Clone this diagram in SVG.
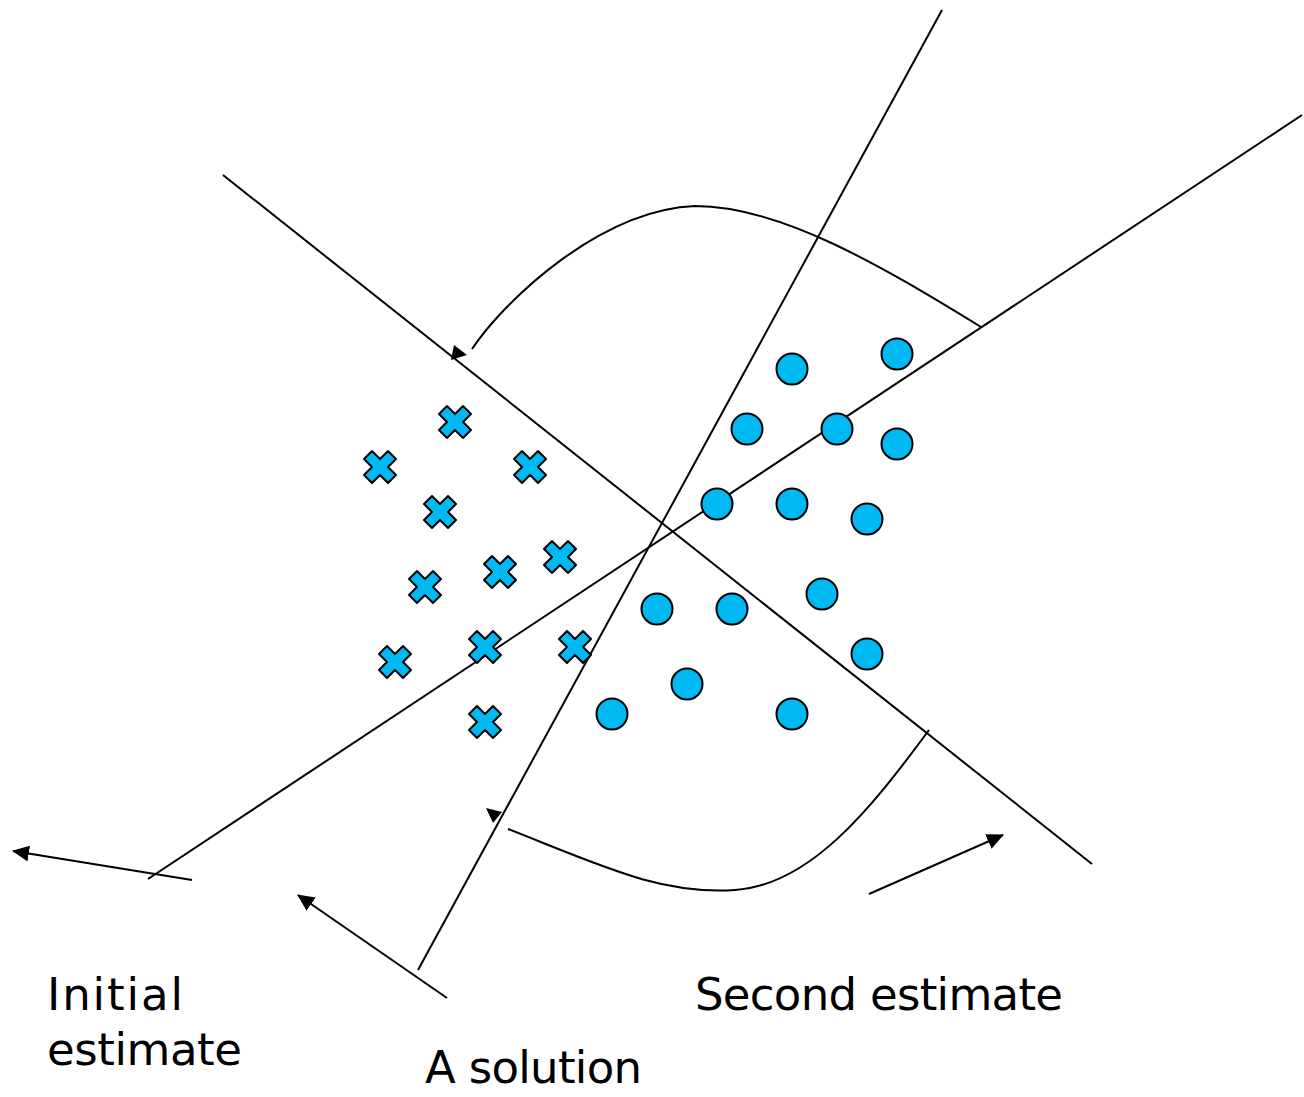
<svg xmlns="http://www.w3.org/2000/svg" width="1304" height="1097" viewBox="0 0 1304 1097">
  <style>
    .ln { fill: none; stroke: #000; stroke-width: 2; }
    .head { fill: #000; stroke: none; }
    .dot { fill: #00B9F2; stroke: #000; stroke-width: 2; }
    .lbl { font-family: "DejaVu Sans", "Liberation Sans", sans-serif; font-size: 45px; fill: #000; }
  </style>
  <defs>
    <marker id="arrow" markerUnits="userSpaceOnUse" markerWidth="18" markerHeight="16" refX="16" refY="8" orient="auto">
      <path d="M0,0 L17,8 L0,16 Z" fill="#000"/>
    </marker>
    <polygon id="cross" points="-8,-16 0,-8 8,-16 16,-8 8,0 16,8 8,16 0,8 -8,16 -16,8 -8,0 -16,-8" stroke="#000" stroke-width="2" stroke-linejoin="round" fill="#00B9F2"/>
  </defs>
  <rect width="1304" height="1097" fill="#fff"/>

  <!-- separating lines, swept arcs and pointer arrows -->
  <g id="connectors">
    <line class="ln" x1="223" y1="175" x2="1092" y2="864"/>
    <line class="ln" x1="942" y1="10" x2="418" y2="970"/>
    <line class="ln" x1="1302" y1="115" x2="148" y2="879"/>
    <path class="ln" d="M472,349 C505,300 600,210 695,206 C780,206 880,265 981,327"/>
    <polygon class="head" points="454,345 467,355 451,360"/>
    <path class="ln" d="M508,829 C600,865 660,895 735,890 C810,885 870,810 929,730"/>
    <polygon class="head" points="486,808 502,812 493,823"/>
    <line class="ln" x1="192" y1="880" x2="13" y2="851" marker-end="url(#arrow)"/>
    <line class="ln" x1="447" y1="998" x2="298" y2="895" marker-end="url(#arrow)"/>
    <line class="ln" x1="869" y1="894" x2="1003" y2="835" marker-end="url(#arrow)"/>
  </g>

  <!-- class A samples -->
  <g id="crosses">
    <use href="#cross" x="455" y="422"/>
    <use href="#cross" x="380" y="467"/>
    <use href="#cross" x="530" y="467"/>
    <use href="#cross" x="440" y="512"/>
    <use href="#cross" x="560" y="557"/>
    <use href="#cross" x="500" y="572"/>
    <use href="#cross" x="425" y="587"/>
    <use href="#cross" x="485" y="647"/>
    <use href="#cross" x="575" y="647"/>
    <use href="#cross" x="395" y="662"/>
    <use href="#cross" x="485" y="722"/>
  </g>

  <!-- class B samples -->
  <g id="circles">
    <circle class="dot" cx="792" cy="369" r="15.5"/>
    <circle class="dot" cx="897" cy="354" r="15.5"/>
    <circle class="dot" cx="747" cy="429" r="15.5"/>
    <circle class="dot" cx="837" cy="429" r="15.5"/>
    <circle class="dot" cx="897" cy="444" r="15.5"/>
    <circle class="dot" cx="717" cy="504" r="15.5"/>
    <circle class="dot" cx="792" cy="504" r="15.5"/>
    <circle class="dot" cx="867" cy="519" r="15.5"/>
    <circle class="dot" cx="822" cy="594" r="15.5"/>
    <circle class="dot" cx="657" cy="609" r="15.5"/>
    <circle class="dot" cx="732" cy="609" r="15.5"/>
    <circle class="dot" cx="867" cy="654" r="15.5"/>
    <circle class="dot" cx="687" cy="684" r="15.5"/>
    <circle class="dot" cx="612" cy="714" r="15.5"/>
    <circle class="dot" cx="792" cy="714" r="15.5"/>
  </g>

  <g id="label-initial">
    <text class="lbl" x="47" y="1010" textLength="136">Initial</text>
    <text class="lbl" x="47" y="1065" textLength="195">estimate</text>
  </g>
  <g id="label-solution">
    <text class="lbl" x="425" y="1083" textLength="217">A solution</text>
  </g>
  <g id="label-second">
    <text class="lbl" x="695" y="1010" textLength="368">Second estimate</text>
  </g>
</svg>
